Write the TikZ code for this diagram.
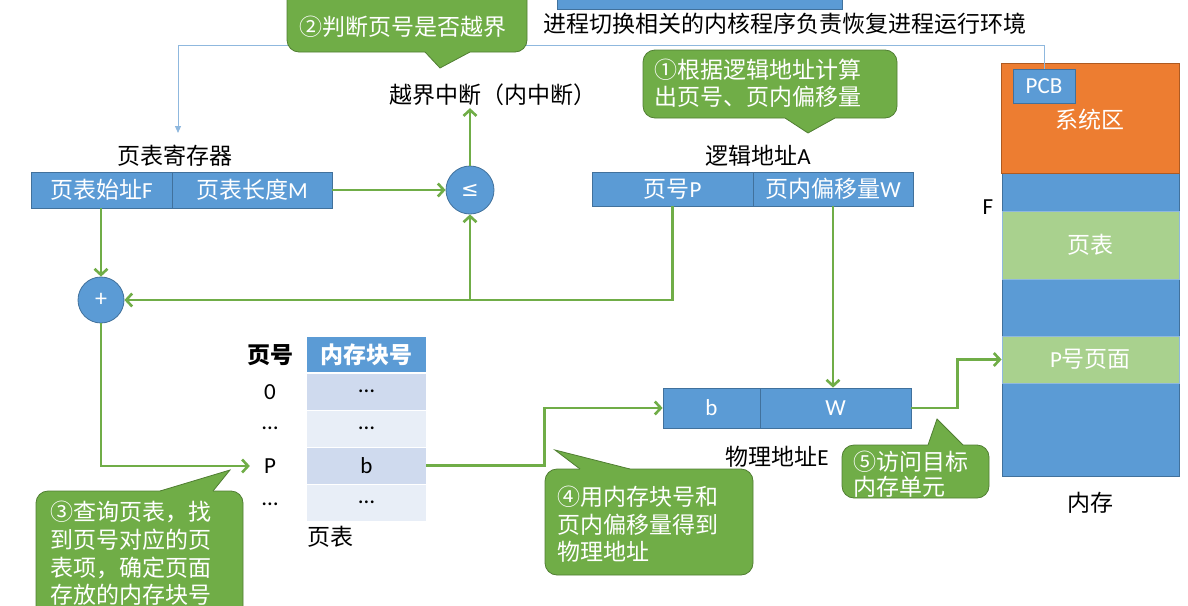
\documentclass[tikz,border=0pt]{standalone}
\usepackage{fontspec}
\setmainfont{Noto Sans CJK SC}
\newfontfamily\lat{Carlito}
\newfontfamily\dejavu{DejaVu Sans}
\usetikzlibrary{arrows.meta}
\definecolor{blueF}{HTML}{5B9BD5}
\definecolor{blueD}{HTML}{41719C}
\definecolor{greenF}{HTML}{70AD47}
\definecolor{greenD}{HTML}{507E32}
\definecolor{orangeF}{HTML}{ED7D31}
\definecolor{orangeD}{HTML}{AE5A21}
\definecolor{lgreen}{HTML}{A9D18E}
\definecolor{rowD}{HTML}{CFDAEE}
\definecolor{rowL}{HTML}{E8EEF7}
\definecolor{thinB}{HTML}{8FB8DE}
\newcommand\myfs{\fontsize{23}{27}\selectfont}
\tikzset{
  box/.style={draw=blueD, line width=0.8pt, fill=blueF, text=white, minimum height=36pt, inner sep=0pt, font=\myfs},
  circ/.style={circle, draw=blueD, line width=0.8pt, fill=blueF, text=white, minimum size=48pt, inner sep=0pt, font=\fontsize{16}{18}\selectfont},
  lbl/.style={inner sep=2pt, font=\myfs, text=black},
  rowbox/.style={minimum width=119pt, minimum height=35.5pt, inner sep=0pt, font=\myfs},
  membox/.style={line width=0.8pt, inner sep=0pt, text=white, font=\myfs},
  cbox/.style={fill=greenF, draw=greenD, line width=0.8pt, rounded corners=12pt},
  cedge/.style={draw=greenD, line width=0.8pt, line join=miter},
  ctext/.style={text=white, align=left, inner sep=0pt},
  garr/.style={draw=greenF, line width=2.6pt, -{Straight Barb[length=6pt,width=13pt]}},
  tarr/.style={draw=thinB, line width=1pt, -{Triangle[length=7pt,width=6pt]}},
}
\begin{document}
\begin{tikzpicture}[x=1pt,y=-1pt]
\useasboundingbox (0,0) rectangle (1188,605);
\clip (0,0) rectangle (1188,605);

% top bar and text
\node[box, minimum width=285pt, minimum height=15pt] (topbar) at (699.5,1.5) {};
\node[lbl] (toptxt) at (785,24) {进程切换相关的内核程序负责恢复进程运行环境};

% memory column
\node[membox, draw=blueD, fill=blueF, minimum width=177pt, minimum height=303pt, anchor=north west] (mem) at (1002,173) {};
\node[membox, draw=orangeD, fill=orangeF, minimum width=178pt, minimum height=110pt, anchor=north west] (sys) at (1001,63) {};
\node[membox, text=white, inner sep=0pt] (sysl) at (1090,120) {系统区};
\node[box, minimum width=62pt, minimum height=34pt] (pcb) at (1044,86) {\lat PCB};
\node[membox, draw=thinB, fill=lgreen, minimum width=177pt, minimum height=68pt] (mpt) at (1090.5,245) {页表};
\node[membox, draw=thinB, fill=lgreen, minimum width=177pt, minimum height=47pt] (mpp) at (1090.5,359.5) {{\lat P}号页面};
\node[lbl] (mF) at (988,207) {\lat F};
\node[lbl] (memlbl) at (1090,503) {内存};

% thin connector from PCB to page table register
\coordinate (regarrow) at (178,133);
\draw[tarr] (pcb.north) -- ++(0,-23) -| (regarrow);

% page table register
\node[lbl] (reglbl) at (175,156) {页表寄存器};
\node[box, minimum width=141pt] (reg1) at (101.5,190) {页表始址{\lat F}};
\node[box, minimum width=160pt] (reg2) at (252,190) {页表长度{\lat M}};

% comparison and addition
\node[circ, font=\fontsize{21}{23}\selectfont] (le) at (470,190) {\dejavu ≤};
\node[circ, minimum size=46pt, font=\fontsize{24}{26}\selectfont] (plus) at (101,300) {\lat +};
\node[lbl] (oob) at (493,95) {越界中断（内中断）};

% logical address
\node[lbl] (lalbl) at (758,156) {逻辑地址{\lat A}};
\node[box, minimum width=161pt, minimum height=34pt] (la1) at (672.5,189) {页号{\lat P}};
\node[box, minimum width=160pt, minimum height=34pt] (la2) at (833,189) {页内偏移量{\lat W}};

% physical address
\node[box, minimum width=97pt, minimum height=40pt] (pa1) at (711.5,408) {\lat b};
\node[box, minimum width=151pt, minimum height=40pt] (pa2) at (835.5,408) {\lat W};
\node[lbl] (palbl) at (777,457) {物理地址{\lat E}};

% page table
\node[rowbox, fill=blueF, text=white, minimum height=35pt] (th) at (366.5,354.5) {\bfseries 内存块号};
\node[rowbox, fill=rowD] (r1) at (366.5,391.75) {\lat …};
\node[rowbox, fill=rowL] (r2) at (366.5,428.75) {\lat …};
\node[rowbox, fill=rowD] (r3) at (366.5,465.75) {\lat b};
\node[rowbox, fill=rowL] (r4) at (366.5,502.75) {\lat …};
\node[lbl] (pn) at (270,355) {\bfseries 页号};
\node[lbl] (p0) at (270,392) {\lat 0};
\node[lbl] (pd1) at (270,428) {\lat …};
\node[lbl] (pP) at (270,466) {\lat P};
\node[lbl] (pd2) at (270,504) {\lat …};
\node[lbl] (ptl) at (330,537) {页表};

% green connectors
\draw[garr] (reg1.south -| plus.north) -- (plus.north);
\draw[garr] (reg2.east) -- (le.west);
\draw[garr] (la1.south) |- (plus.east);
\draw[garr] (le.south |- plus.east) -- (le.south);
\draw[garr] (le.north) -- (le.north |- oob.south);
\draw[garr] (la2.south) -- (la2.south |- pa2.north);
\draw[garr] (plus.south) |- ([xshift=-12pt]pP.west);
\draw[garr] (r3.east) -- ++(118,0) |- (pa1.west);
\draw[garr] (pa2.east) -- ++(46,0) |- (mpp.west);

% callout 1
\draw[cbox] (643,50) rectangle (897,118);
\fill[greenF] (785,118) -- (808,133) -- (835,118) -- (835,116) -- (785,116) -- cycle;
\draw[cedge] (785,118) -- (808,133) -- (835,118);
\node[ctext, anchor=west, font=\fontsize{23}{27}\selectfont] (c1t) at (654,83.5) {①根据逻辑地址计算\\出页号、页内偏移量};

% callout 2
\draw[cbox] (287,-14) rectangle (527,52);
\fill[greenF] (425,52) -- (440,68) -- (470,52) -- (470,50) -- (425,50) -- cycle;
\draw[cedge] (425,52) -- (440,68) -- (470,52);
\node[ctext, font=\myfs] (c2t) at (403,27) {②判断页号是否越界};

% callout 3
\draw[cbox] (36,491) rectangle (243,630);
\fill[greenF] (160,491) -- (230,470) -- (213,491) -- (213,493) -- (160,493) -- cycle;
\draw[cedge] (160,491) -- (230,470) -- (213,491);
\node[ctext, anchor=west, font=\fontsize{23}{27.7}\selectfont] (c3t) at (50,553.5) {③查询页表，找\\到页号对应的页\\表项，确定页面\\存放的内存块号};

% callout 4
\draw[cbox] (545,469) rectangle (753,575);
\fill[greenF] (580,469) -- (555,450) -- (630,469) -- (630,471) -- (580,471) -- cycle;
\draw[cedge] (580,469) -- (555,450) -- (630,469);
\node[ctext, anchor=west, font=\fontsize{23}{27.5}\selectfont] (c4t) at (557,524.5) {④用内存块号和\\页内偏移量得到\\物理地址};

% callout 5
\draw[cbox] (842,445) rectangle (989,498);
\fill[greenF] (928,445) -- (937,419) -- (963,445) -- (963,447) -- (928,447) -- cycle;
\draw[cedge] (928,445) -- (937,419) -- (963,445);
\node[ctext, anchor=west, font=\fontsize{23}{25}\selectfont] (c5t) at (853,474.5) {⑤访问目标\\内存单元};
\end{tikzpicture}
\end{document}
